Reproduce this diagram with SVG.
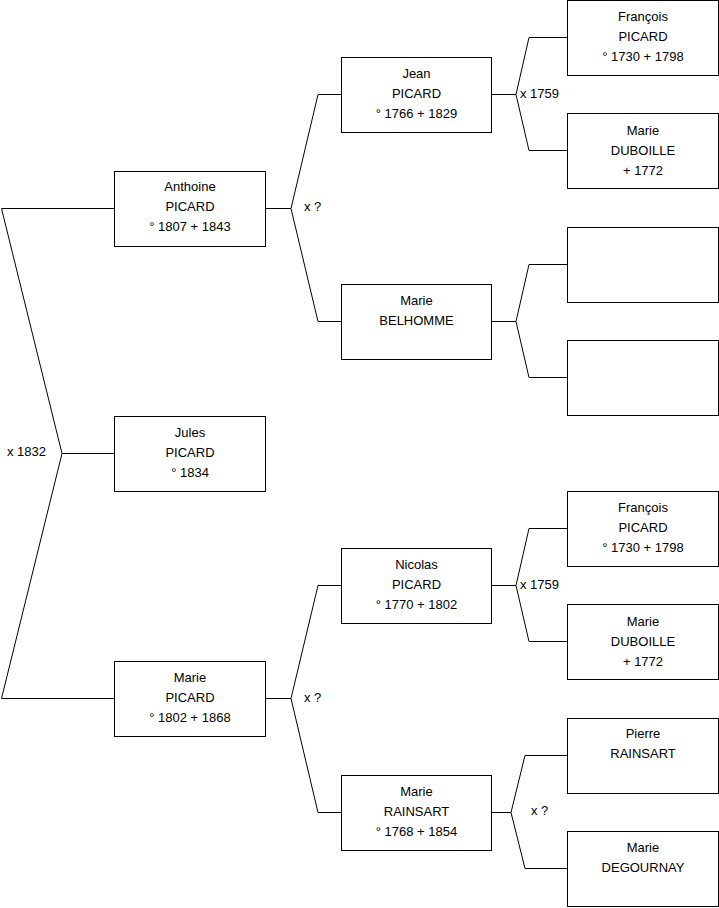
<svg xmlns="http://www.w3.org/2000/svg" width="719" height="908" viewBox="0 0 719 908">
<style>
.box{fill:#fff;stroke:#000;stroke-width:1}
.c{fill:none;stroke:#000;stroke-width:1}
text{font-family:"Liberation Sans",Arial,sans-serif;font-size:13px;fill:#000}
.n{text-anchor:middle}
</style>
<rect width="719" height="908" fill="#fff"/>
<g id="connectors">
<path class="c" d="M114.5,208.5 H1.5 L62,453.5 L1.5,698.5 H114.5 M62,453.5 H114.5"/>
<path class="c" d="M265.5,208.5 H291 M341.5,94.5 H318 L291,208.5 L318,321.5 H341.5"/>
<path class="c" d="M265.5,698.5 H291 M341.5,585.5 H318 L291,698.5 L318,812.5 H341.5"/>
<path class="c" d="M491.5,94.5 H516 M567.5,37.5 H529 L516,94.5 L529,150.5 H567.5"/>
<path class="c" d="M491.5,321.5 H516 M567.5,264.5 H529 L516,321.5 L529,377.5 H567.5"/>
<path class="c" d="M491.5,585.5 H516 M567.5,528.5 H529 L516,585.5 L529,641.5 H567.5"/>
<path class="c" d="M491.5,812.5 H511 M567.5,755.5 H525 L511,812.5 L525,868.5 H567.5"/>
<text x="7" y="456">x 1832</text>
<text x="304" y="211">x ?</text>
<text x="304" y="702">x ?</text>
<text x="520" y="98">x 1759</text>
<text x="520" y="589">x 1759</text>
<text x="531" y="815">x ?</text>
</g>
<g id="anthoine"><rect class="box" x="114.5" y="171.5" width="151" height="75"/>
<text class="n" x="190" y="191">Anthoine</text><text class="n" x="190" y="211">PICARD</text><text class="n" x="190" y="231">° 1807 + 1843</text></g>
<g id="jules"><rect class="box" x="114.5" y="416.5" width="151" height="75"/>
<text class="n" x="190" y="437">Jules</text><text class="n" x="190" y="457">PICARD</text><text class="n" x="190" y="477">° 1834</text></g>
<g id="marie-picard"><rect class="box" x="114.5" y="661.5" width="151" height="75"/>
<text class="n" x="190" y="682">Marie</text><text class="n" x="190" y="702">PICARD</text><text class="n" x="190" y="722">° 1802 + 1868</text></g>
<g id="jean"><rect class="box" x="341.5" y="57.5" width="150" height="75"/>
<text class="n" x="416.5" y="78">Jean</text><text class="n" x="416.5" y="98">PICARD</text><text class="n" x="416.5" y="118">° 1766 + 1829</text></g>
<g id="marie-belhomme"><rect class="box" x="341.5" y="284.5" width="150" height="75"/>
<text class="n" x="416.5" y="305">Marie</text><text class="n" x="416.5" y="325">BELHOMME</text></g>
<g id="nicolas"><rect class="box" x="341.5" y="548.5" width="150" height="75"/>
<text class="n" x="416.5" y="569">Nicolas</text><text class="n" x="416.5" y="589">PICARD</text><text class="n" x="416.5" y="609">° 1770 + 1802</text></g>
<g id="marie-rainsart"><rect class="box" x="341.5" y="775.5" width="150" height="75"/>
<text class="n" x="416.5" y="796">Marie</text><text class="n" x="416.5" y="816">RAINSART</text><text class="n" x="416.5" y="836">° 1768 + 1854</text></g>
<g id="francois1"><rect class="box" x="567.5" y="0.5" width="151" height="75"/>
<text class="n" x="643" y="21">François</text><text class="n" x="643" y="41">PICARD</text><text class="n" x="643" y="61">° 1730 + 1798</text></g>
<g id="duboille1"><rect class="box" x="567.5" y="113.5" width="151" height="75"/>
<text class="n" x="643" y="135">Marie</text><text class="n" x="643" y="155">DUBOILLE</text><text class="n" x="643" y="175">+ 1772</text></g>
<g id="empty1"><rect class="box" x="567.5" y="227.5" width="151" height="75"/></g>
<g id="empty2"><rect class="box" x="567.5" y="340.5" width="151" height="75"/></g>
<g id="francois2"><rect class="box" x="567.5" y="491.5" width="151" height="75"/>
<text class="n" x="643" y="512">François</text><text class="n" x="643" y="532">PICARD</text><text class="n" x="643" y="552">° 1730 + 1798</text></g>
<g id="duboille2"><rect class="box" x="567.5" y="604.5" width="151" height="75"/>
<text class="n" x="643" y="626">Marie</text><text class="n" x="643" y="646">DUBOILLE</text><text class="n" x="643" y="666">+ 1772</text></g>
<g id="pierre"><rect class="box" x="567.5" y="718.5" width="151" height="75"/>
<text class="n" x="643" y="738">Pierre</text><text class="n" x="643" y="758">RAINSART</text></g>
<g id="degournay"><rect class="box" x="567.5" y="831.5" width="151" height="75"/>
<text class="n" x="643" y="852">Marie</text><text class="n" x="643" y="872">DEGOURNAY</text></g>
</svg>
